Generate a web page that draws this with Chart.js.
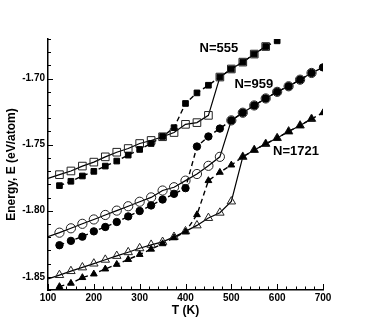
<!DOCTYPE html>
<html><head><meta charset="utf-8">
<script src="https://cdn.jsdelivr.net/npm/chart.js@4.4.0/dist/chart.umd.min.js"></script>
<style>html,body{margin:0;padding:0;background:#fff;}canvas{display:block;}</style>
</head><body>
<canvas id="c" width="368" height="327"></canvas>
<script>
// ---- data ----
const temperatures = [125,150,175,200,225,250,275,300,325,350,375,400,425,450,475,500,525,550,575,600,625,650,675,700];
const xTickValues = [100,200,300,400,500,600,700];
const yTickValues = [-1.85,-1.80,-1.75,-1.70];
const seriesLabels = ['N=555','N=959','N=1721'];

// N=555 (open = solid curve, filled = dashed curve)
const open555 = [-1.7727,-1.7699,-1.7662,-1.7632,-1.7592,-1.7557,-1.7529,-1.7491,-1.7468,-1.7440,-1.7408,-1.7346,-1.7333,-1.7278,-1.6988,-1.6927,-1.6875,-1.6814,-1.6757];
const filled555 = [-1.7810,-1.7777,-1.7737,-1.7702,-1.7662,-1.7624,-1.7579,-1.7536,-1.7491,-1.7438,-1.7371,-1.7188,-1.7108,-1.7050,-1.6988,-1.6927,-1.6875,-1.6814,-1.6757,-1.6714];
const solidStart555 = -1.7755;

// N=959
const open959 = [-1.8166,-1.8133,-1.8099,-1.8066,-1.8032,-1.7999,-1.7966,-1.7932,-1.7899,-1.7847,-1.7822,-1.7772,-1.7722,-1.7660,-1.7592,-1.7316,-1.7258,-1.7203,-1.7150,-1.7100,-1.7058,-1.7008,-1.6957];
const filled959 = [-1.8261,-1.8228,-1.8196,-1.8156,-1.8123,-1.8085,-1.8043,-1.8002,-1.7960,-1.7915,-1.7872,-1.7829,-1.7514,-1.7438,-1.7378,-1.7316,-1.7258,-1.7203,-1.7150,-1.7100,-1.7058,-1.7008,-1.6957,-1.6915];
const solidStart959 = -1.8196;

// N=1721
const open1721 = [-1.8487,-1.8457,-1.8429,-1.8400,-1.8371,-1.8342,-1.8314,-1.8284,-1.8258,-1.8236,-1.8198,-1.8156,-1.8111,-1.8055,-1.8015,-1.7930,-1.7592,-1.7540,-1.7494,-1.7450,-1.7400,-1.7355,-1.7305];
const filled1721 = [-1.8574,-1.8549,-1.8506,-1.8479,-1.8441,-1.8406,-1.8369,-1.8331,-1.8291,-1.8250,-1.8205,-1.8160,-1.8030,-1.7772,-1.7709,-1.7654,-1.7592,-1.7540,-1.7494,-1.7450,-1.7400,-1.7355,-1.7305,-1.7258];
const solidStart1721 = -1.8516;

// ---- build ----
const pts = E => E.map((e,i) => ({x: temperatures[i], y: e}));
const solid = (start, E) => [{x: 100, y: start}].concat(pts(E));

function lineDs(data, dashed){
  return {data, showLine:true, pointRadius:0, borderColor:'#000', borderWidth: dashed?1.4:1.2,
          borderDash: dashed?[5,3.5]:[], fill:false, tension:0, order:3};
}
function openDs(data, style, r){
  return {data, showLine:false, pointStyle:style, pointRadius:r, pointBorderColor:'#222',
          pointBackgroundColor:'rgba(0,0,0,0)', pointBorderWidth:1, order:2};
}
function filledDs(data, style, r){
  return {data, showLine:false, pointStyle:style, pointRadius:r, pointBorderColor:'#000',
          pointBackgroundColor:'#000', pointBorderWidth:1, order:1};
}

const datasets = [
  lineDs(solid(solidStart555, open555), false),
  lineDs(pts(filled555), true),
  lineDs(solid(solidStart959, open959), false),
  lineDs(pts(filled959), true),
  lineDs(solid(solidStart1721, open1721), false),
  lineDs(pts(filled1721), true),
  openDs(pts(open555), 'rect', 5.4),
  openDs(pts(open959), 'circle', 4.6),
  openDs(pts(open1721), 'triangle', 4.9),
  filledDs(pts(filled555), 'rect', 4.0),
  filledDs(pts(filled959), 'circle', 3.7),
  filledDs(pts(filled1721), 'triangle', 3.9)
];

const labelAnchors = [
  {text: seriesLabels[0], x: 473, y: -1.6774},
  {text: seriesLabels[1], x: 549, y: -1.7045},
  {text: seriesLabels[2], x: 641, y: -1.7549}
];

const inwardTicks = {
  id: 'inwardTicks',
  afterDraw(chart){
    const {ctx, chartArea:a, scales:{x, y}} = chart;
    ctx.save();
    ctx.strokeStyle = '#000';
    ctx.lineWidth = 1;
    ctx.beginPath();
    for (let v = 100; v <= 700; v += 20){
      const px = Math.round(x.getPixelForValue(v)) + 0.5;
      const len = (v % 100 === 0) ? 6 : 3.5;
      ctx.moveTo(px, a.bottom); ctx.lineTo(px, a.bottom - len);
    }
    for (let k = -186; k <= -167; k += 1){
      const v = k / 100;
      const py = Math.round(y.getPixelForValue(v)) + 0.5;
      const len = (k % 5 === 0) ? 5 : 3;
      ctx.moveTo(a.left, py); ctx.lineTo(a.left + len, py);
    }
    ctx.stroke();
    ctx.fillStyle = '#000';
    ctx.font = 'bold 13px "Liberation Sans", Arial, sans-serif';
    ctx.textAlign = 'center';
    ctx.textBaseline = 'middle';
    labelAnchors.forEach(l => {
      ctx.fillText(l.text, x.getPixelForValue(l.x), y.getPixelForValue(l.y));
    });
    ctx.restore();
  }
};

const tickFont = {family: '"Liberation Sans", Arial, sans-serif', size: 10, weight: 'bold'};
const titleFont = {family: '"Liberation Sans", Arial, sans-serif', size: 12, weight: 'bold'};

new Chart(document.getElementById('c'), {
  type: 'scatter',
  data: {datasets},
  options: {
    responsive: false,
    animation: false,
    layout: {padding: {top: 39, right: 45, left: 0, bottom: 0}},
    plugins: {legend: {display: false}, tooltip: {enabled: false}},
    scales: {
      x: {
        type: 'linear', min: 100, max: 700,
        afterBuildTicks: s => { s.ticks = xTickValues.map(v => ({value: v})); },
        afterFit: s => { s.height = 37; },
        grid: {display: false, drawTicks: false},
        border: {display: true, color: '#000', width: 1.5},
        ticks: {font: tickFont, color: '#000', padding: 2, maxRotation: 0},
        title: {display: true, text: 'T (K)', font: titleFont, color: '#000', padding: {top: 0, bottom: 9}}
      },
      y: {
        type: 'linear', min: -1.86, max: -1.67,
        afterBuildTicks: s => { s.ticks = yTickValues.map(v => ({value: v})); },
        afterFit: s => { s.width = 48; },
        grid: {display: false, drawTicks: false},
        border: {display: true, color: '#000', width: 1.5},
        ticks: {font: tickFont, color: '#000', padding: 3, callback: v => v.toFixed(2)},
        title: {display: true, text: 'Energy, E (eV/atom)', font: titleFont, color: '#000', padding: {top: 4, bottom: 0}}
      }
    }
  },
  plugins: [inwardTicks]
});
</script>
</body></html>
